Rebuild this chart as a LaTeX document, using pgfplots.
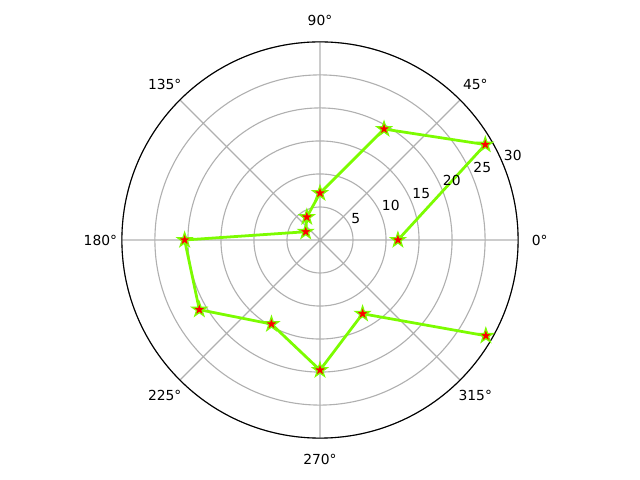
\documentclass[border=0pt]{standalone}
\usepackage{fontspec}
\setmainfont{DejaVu Sans}
\usepackage{pgfplots}
\pgfplotsset{compat=1.18}
\usepgfplotslibrary{polar}
\definecolor{lgreen}{HTML}{7CFC00}
\definecolor{gridgray}{HTML}{B0B0B0}
\pgfdeclareplotmark{fstar}{%
  \pgfpathmoveto{\pgfpointpolar{90}{\pgfplotmarksize}}%
  \pgfpathlineto{\pgfpointpolar{126}{0.381966*\pgfplotmarksize}}%
  \pgfpathlineto{\pgfpointpolar{162}{\pgfplotmarksize}}%
  \pgfpathlineto{\pgfpointpolar{198}{0.381966*\pgfplotmarksize}}%
  \pgfpathlineto{\pgfpointpolar{234}{\pgfplotmarksize}}%
  \pgfpathlineto{\pgfpointpolar{270}{0.381966*\pgfplotmarksize}}%
  \pgfpathlineto{\pgfpointpolar{306}{\pgfplotmarksize}}%
  \pgfpathlineto{\pgfpointpolar{342}{0.381966*\pgfplotmarksize}}%
  \pgfpathlineto{\pgfpointpolar{18}{\pgfplotmarksize}}%
  \pgfpathlineto{\pgfpointpolar{54}{0.381966*\pgfplotmarksize}}%
  \pgfpathclose
  \pgfusepathqfillstroke}
\begin{document}
\begin{tikzpicture}[x=0.01in,y=0.01in]
\path (-320,-240) rectangle (320,240);
\begin{polaraxis}[
  at={(0,0)}, anchor=center,
  width=3.96in, height=3.96in, scale only axis,
  clip=false,
  ymin=0, ymax=30,
  xtick={0,45,...,315},
  xticklabels={0°,45°,90°,135°,180°,225°,270°,315°},
  ytick={5,10,...,30},
  yticklabels={},
  grid=major,
  major grid style={gridgray, line width=0.8pt},
  axis line style={black, line width=0.8pt},
  y axis line style={draw=none},
  major tick length=0pt,
  font=\fontsize{10}{12}\selectfont,
  ticklabel style={font=\fontsize{10}{12}\selectfont},
  xticklabel style={anchor=center, shift={(\tick:0.215in)}},
]
\addplot[lgreen, line width=2pt, mark=fstar, mark size=5.5pt,
  mark options={fill=red, draw=lgreen, line width=0.9pt, solid}]
  coordinates {(0,11.8) (30,28.9) (60,19.4) (90,7.1) (120,4.0) (150,2.5)
  (180,20.5) (210,21.1) (240,14.7) (270,19.7) (300,12.9) (330,29.0)};
\begin{scope}[every node/.style={anchor=south west, inner xsep=0.5pt, inner ysep=2.5pt}]
\node at (axis cs:22.5,5) {5};
\node at (axis cs:22.5,10) {10};
\node at (axis cs:22.5,15) {15};
\node at (axis cs:22.5,20) {20};
\node at (axis cs:22.5,25) {25};
\node at (axis cs:22.5,30) {30};
\end{scope}
\end{polaraxis}
\end{tikzpicture}
\end{document}
